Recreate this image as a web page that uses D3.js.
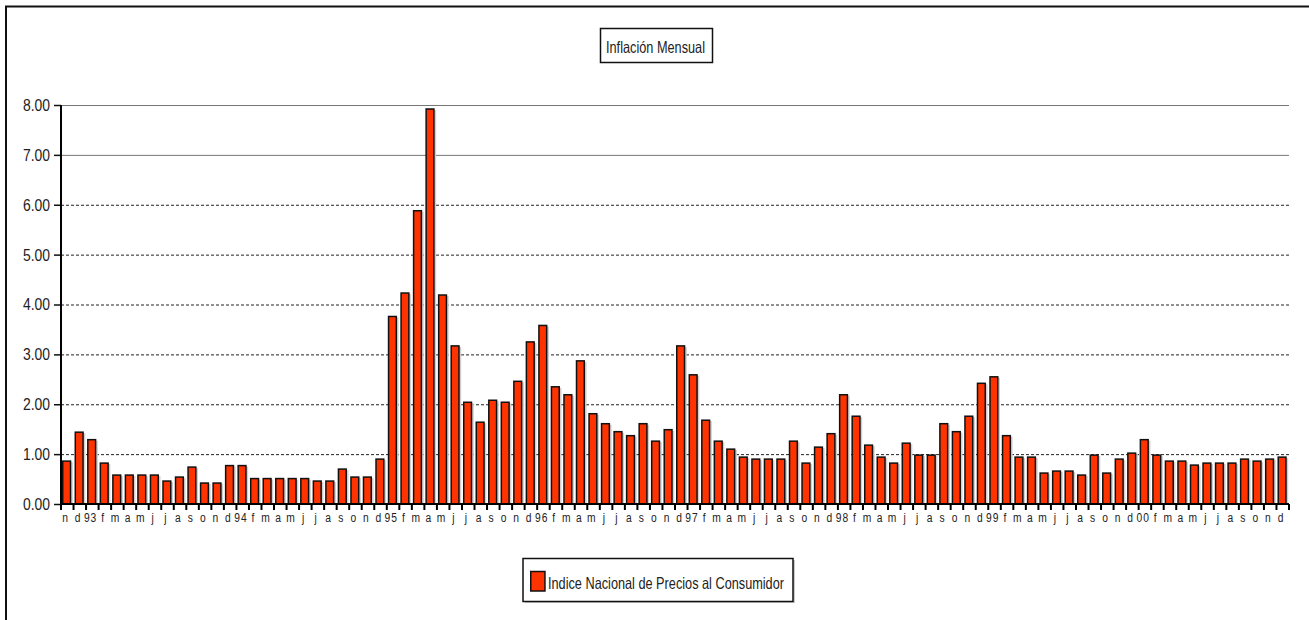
<!DOCTYPE html>
<html>
<head>
<meta charset="utf-8">
<script src="https://cdn.jsdelivr.net/npm/d3@7"></script>
<style>
  body { margin: 0; background: #fff; }
  svg { display: block; }
  text { font-family: "Liberation Sans", Arial, sans-serif; fill: #222; }
</style>
</head>
<body>
<svg id="chart" width="1309" height="620"></svg>
<script>
// tick labels: January shows the year, other months their initial
var monthLetters = ["e", "f", "m", "a", "m", "j", "j", "a", "s", "o", "n", "d"];
var yearLabels = ["93", "94", "95", "96", "97", "98", "99", "00"];
var startLabels = ["n", "d"];   // nov and dec 1992

// INPC monthly inflation (%), nov 1992 .. dec 2000
var values = [
  0.86, 1.44,
  1.29, 0.82, 0.58, 0.58, 0.58, 0.58, 0.46, 0.54, 0.74, 0.42, 0.42, 0.77,
  0.77, 0.51, 0.51, 0.51, 0.51, 0.51, 0.46, 0.46, 0.70, 0.54, 0.54, 0.90,
  3.76, 4.23, 5.88, 7.92, 4.19, 3.17, 2.04, 1.64, 2.08, 2.04, 2.46, 3.25,
  3.58, 2.35, 2.19, 2.87, 1.81, 1.61, 1.45, 1.37, 1.61, 1.26, 1.49, 3.17,
  2.59, 1.68, 1.26, 1.10, 0.94, 0.90, 0.90, 0.90, 1.26, 0.82, 1.14, 1.41,
  2.19, 1.76, 1.18, 0.94, 0.82, 1.22, 0.98, 0.98, 1.61, 1.45, 1.76, 2.42,
  2.55, 1.37, 0.94, 0.94, 0.62, 0.66, 0.66, 0.58, 0.98, 0.62, 0.90, 1.02,
  1.29, 0.98, 0.86, 0.86, 0.78, 0.82, 0.82, 0.82, 0.90, 0.86, 0.90, 0.94
];
var yTicks = [0, 1, 2, 3, 4, 5, 6, 7, 8];

var title = "Inflación  Mensual";
var seriesName = "Indice Nacional de Precios al Consumidor";

var labels = startLabels.slice();
yearLabels.forEach(function(y) {
  monthLetters.forEach(function(m, i) {
    labels.push(i === 0 ? y : m);
  });
});

var BAR_COLOR = "#ff3300";
var NARROW = 0.82;   // squeeze Liberation Sans to look like a narrow face
var svg = d3.select("#chart");

// outer frame (only top and left edges show)
svg.append("rect")
  .attr("x", 6).attr("y", 6.5)
  .attr("width", 1340).attr("height", 660)
  .style("fill", "none").style("stroke", "#111").style("stroke-width", 2);

var plotLeft = 61, plotRight = 1289, plotTop = 105, plotBottom = 504;

var x = d3.scaleBand()
  .domain(d3.range(values.length))
  .range([plotLeft, plotRight])
  .paddingInner(0).paddingOuter(0);

var y = d3.scaleLinear().domain([0, 8]).range([plotBottom, plotTop]);

// gridlines
svg.append("g").selectAll("line")
  .data(yTicks.filter(function(d) { return d > 0; }))
  .enter().append("line")
  .attr("x1", plotLeft).attr("x2", plotRight)
  .attr("y1", function(d) { return y(d) + 0.5; })
  .attr("y2", function(d) { return y(d) + 0.5; })
  .style("stroke", function(d) { return d >= 7 ? "#777" : "#222"; })
  .style("stroke-width", 1)
  .style("stroke-dasharray", function(d) { return d >= 7 ? null : "3,2"; });

// y axis
var yAxis = d3.axisLeft(y)
  .tickValues(yTicks)
  .tickSize(7)
  .tickFormat(d3.format(".2f"));
var gy = svg.append("g").attr("transform", "translate(" + plotLeft + ",0)").call(yAxis);
gy.select(".domain").remove();
gy.selectAll(".tick line").style("stroke", "#111").style("stroke-width", 1.5);
gy.selectAll(".tick text")
  .attr("x", -11 / NARROW)
  .attr("transform", "scale(" + NARROW + ",1)")
  .style("font-family", "'Liberation Sans', Arial, sans-serif")
  .style("font-size", "17px")
  .style("fill", "#222");

// bars: light shadow first, then the bar
var bw = x.bandwidth();
var bars = svg.append("g");
bars.selectAll(".shadow")
  .data(values)
  .enter().append("rect")
  .attr("class", "shadow")
  .attr("x", function(d, i) { return x(i) + 2.5; })
  .attr("y", function(d) { return y(d) + 1; })
  .attr("width", bw * 0.74)
  .attr("height", function(d) { return plotBottom - y(d); })
  .style("fill", "#cfcfcf");

bars.selectAll(".bar")
  .data(values)
  .enter().append("rect")
  .attr("class", "bar")
  .attr("x", function(d, i) { return x(i) + 1.75; })
  .attr("y", function(d) { return y(d); })
  .attr("width", bw * 0.74 - 1.5)
  .attr("height", function(d) { return plotBottom - y(d); })
  .style("fill", BAR_COLOR)
  .style("stroke", "#111")
  .style("stroke-width", 1.5);

// x axis line, y axis line, ticks at band edges
svg.append("line")
  .attr("x1", plotLeft).attr("x2", plotRight)
  .attr("y1", plotBottom).attr("y2", plotBottom)
  .style("stroke", "#000").style("stroke-width", 2);

svg.append("line")
  .attr("x1", plotLeft).attr("x2", plotLeft)
  .attr("y1", plotTop).attr("y2", plotBottom + 6)
  .style("stroke", "#000").style("stroke-width", 2);

svg.append("g").selectAll("line")
  .data(d3.range(values.length + 1))
  .enter().append("line")
  .attr("x1", function(i) { return plotLeft + i * bw; })
  .attr("x2", function(i) { return plotLeft + i * bw; })
  .attr("y1", plotBottom).attr("y2", plotBottom + 6)
  .style("stroke", "#000").style("stroke-width", 2);

svg.append("g").selectAll("text")
  .data(labels)
  .enter().append("text")
  .attr("transform", function(d, i) {
    return "translate(" + (x(i) + bw * 0.36) + "," + (plotBottom + 18) + ") scale(" + NARROW + ",1)";
  })
  .attr("text-anchor", "middle")
  .style("font-size", "12.5px")
  .style("letter-spacing", "1.2px")
  .text(function(d) { return d; });

// title box
var tg = svg.append("g");
tg.append("rect")
  .attr("x", 600.5).attr("y", 28.5).attr("width", 112).attr("height", 34)
  .style("fill", "#fff").style("stroke", "#111").style("stroke-width", 1.5);
tg.append("text")
  .attr("x", 606).attr("y", 52.5)
  .attr("textLength", 99)
  .attr("lengthAdjust", "spacingAndGlyphs")
  .style("font-size", "16.5px")
  .text(title);

// legend
var lg = svg.append("g");
lg.append("rect")
  .attr("x", 525).attr("y", 560).attr("width", 270).attr("height", 43)
  .style("fill", "#ccc");
lg.append("rect")
  .attr("x", 523).attr("y", 558.5).attr("width", 270).attr("height", 43)
  .style("fill", "#fff").style("stroke", "#111").style("stroke-width", 1.5);
lg.append("rect")
  .attr("x", 530.75).attr("y", 571.5).attr("width", 14.2).attr("height", 19.5)
  .style("fill", BAR_COLOR).style("stroke", "#111").style("stroke-width", 1.5);
lg.append("text")
  .attr("x", 548).attr("y", 589.3)
  .attr("textLength", 236)
  .attr("lengthAdjust", "spacingAndGlyphs")
  .style("font-size", "16.5px")
  .text(seriesName);
</script>
</body>
</html>
